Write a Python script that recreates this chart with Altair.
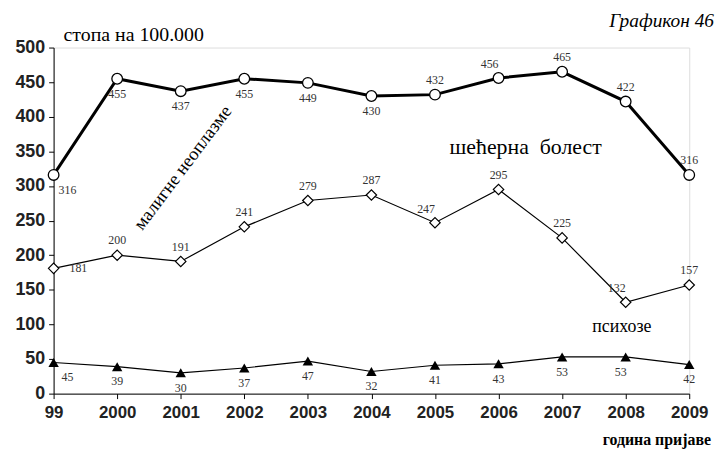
import altair as alt
import pandas as pd

years = ["99", "2000", "2001", "2002", "2003", "2004", "2005", "2006", "2007", "2008", "2009"]
malignant = [316, 455, 437, 455, 449, 430, 432, 456, 465, 422, 316]
diabetes = [181, 200, 191, 241, 279, 287, 247, 295, 225, 132, 157]
psychoses = [45, 39, 30, 37, 47, 32, 41, 43, 53, 53, 42]
# label placement per point: b=below, a=above, r=right, br=below-right, al=above-left
malignant_pos = ["br", "b", "b", "b", "b", "b", "a", "al", "a", "a", "a"]
diabetes_pos = ["r", "a", "a", "a", "a", "a", "al", "a", "a", "al", "a"]
psychoses_pos = ["br", "b", "b", "b", "b", "b", "b", "b", "b", "bl", "b"]

rows = []
for name, vals, pos in [("mal", malignant, malignant_pos),
                        ("dia", diabetes, diabetes_pos),
                        ("psy", psychoses, psychoses_pos)]:
    for i, (y, v, p) in enumerate(zip(years, vals, pos)):
        rows.append({"series": name, "year": y, "i": i, "value": v, "pos": p})
df = pd.DataFrame(rows)

W, H = 641, 349
serif = "Liberation Serif"
sans = "Liberation Sans"

x = alt.X("year:N", sort=years, scale=alt.Scale(type="point", padding=0),
          axis=alt.Axis(title=None, labelAngle=0, labelFont=sans, labelFontWeight="bold",
                        labelFontSize=17, labelColor="#222", tickSize=5, labelPadding=6,
                        domainColor="black", tickColor="black", grid=False))
y = alt.Y("value:Q", scale=alt.Scale(domain=[0, 500], nice=False),
          axis=alt.Axis(title=None, values=list(range(0, 501, 50)), labelFont=sans,
                        labelFontWeight="bold", labelFontSize=18, labelColor="#222",
                        tickSize=5, labelPadding=4, domainColor="black",
                        tickColor="black", grid=False))

base = alt.Chart(df).encode(x=x, y=y)

mal = base.transform_filter("datum.series == 'mal'")
dia = base.transform_filter("datum.series == 'dia'")
psy = base.transform_filter("datum.series == 'psy'")

layers = [
    mal.mark_line(color="black", strokeWidth=3),
    mal.mark_point(shape="circle", filled=True, fill="white", stroke="black",
                   strokeWidth=1.3, size=115, opacity=1),
    dia.mark_line(color="black", strokeWidth=1.2),
    dia.mark_point(shape="diamond", filled=True, fill="white", stroke="black",
                   strokeWidth=1.2, size=110, opacity=1),
    psy.mark_line(color="black", strokeWidth=1.2),
    psy.mark_point(shape="triangle-up", filled=True, color="black", size=110, opacity=1),
]

offsets = {"b": (0, 15), "a": (0, -15), "r": (16, 0), "br": (14, 15),
           "al": (-9, -14), "bl": (-5, 15)}
for p, (dx, dy) in offsets.items():
    layers.append(
        base.transform_filter(f"datum.pos == '{p}'").mark_text(
            font=serif, fontSize=12, color="#333", dx=dx, dy=dy,
            align="left" if p == "r" else "center", baseline="middle"
        ).encode(text="value:Q")
    )

def note(txt, px, py, size, align="center", angle=0, weight="normal", style="normal"):
    return alt.Chart(pd.DataFrame({"t": [txt]})).mark_text(
        font=serif, fontSize=size, align=align, baseline="middle", angle=angle,
        fontWeight=weight, fontStyle=style, color="black"
    ).encode(x=alt.value(px), y=alt.value(py), text="t:N")

layers += [
    note("стопа на 100.000", 10, -13, 20, align="left"),
    note("Графикон 46", 666, -27, 19.5, align="right", style="italic"),
    note("година пријаве", 663, 396, 16, align="right", weight="bold"),
    note("малигне неоплазме", 130, 121, 18.5, angle=307),
    note("шећерна\u00a0\u00a0болест", 476, 100, 22),
    note("психозе", 573, 282, 18),
]

chart = alt.layer(*layers).properties(
    width=W, height=H,
    autosize=alt.AutoSizeParams(type="none"),
    padding={"left": 46, "top": 38, "right": 27, "bottom": 61},
).configure_view(stroke=None).configure(background="white")

chart.save("out.html", embed_options={"renderer": "svg", "actions": False})
